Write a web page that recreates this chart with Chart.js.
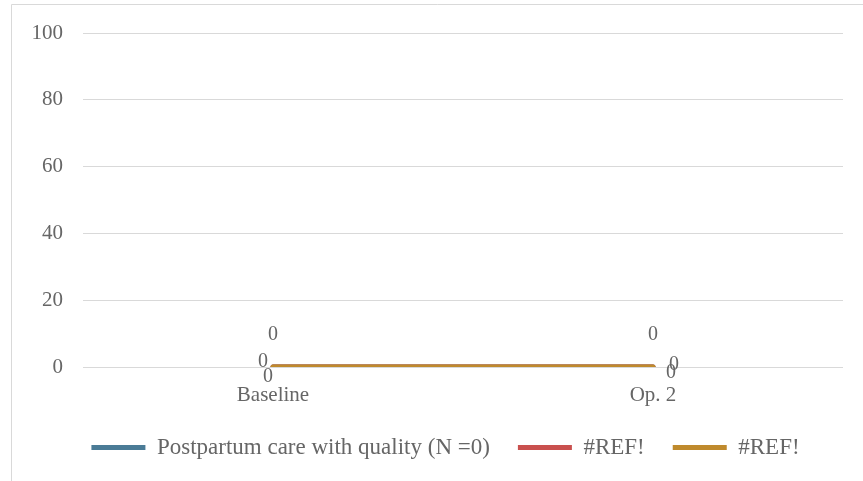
<!DOCTYPE html>
<html lang="en">
<head>
<meta charset="UTF-8">
<title>Postpartum care with quality</title>
<script src="https://cdn.jsdelivr.net/npm/chart.js"></script>
<style>
    body { margin: 0; background: #ffffff; }
    .wrap { width: 863px; height: 481px; position: relative; }
</style>
</head>
<body>
<div class="wrap"><canvas id="grafico" width="863" height="481"></canvas></div>
<script>
// datos
const categorias = ["Baseline", "Op. 2"];
const nombresSeries = ["Postpartum care with quality (N =0)", "#REF!", "#REF!"];
const serieCalidad = [0, 0];
const serieRef1 = [0, 0];
const serieRef2 = [0, 0];
const ticksY = [0, 20, 40, 60, 80, 100];

const colores = ["#4a7b96", "#c9504e", "#bf8a2d"];
const gris = "#666666";
const fuente = "'Liberation Serif', 'DejaVu Serif', serif";

// donde cae cada etiqueta "0" respecto a su punto
const desplazamientos = [
    [{ dx: 0, dy: -32 }, { dx: 0, dy: -32 }],
    [{ dx: -10, dy: -5 }, { dx: 21, dy: -2 }],
    [{ dx: -5, dy: 10 }, { dx: 18, dy: 6 }]
];

const etiquetas = {
    id: "etiquetas",
    afterDatasetsDraw(chart) {
        const ctx = chart.ctx;
        ctx.save();
        ctx.font = "20px " + fuente;
        ctx.fillStyle = gris;
        ctx.textAlign = "center";
        ctx.textBaseline = "middle";
        chart.data.datasets.forEach((ds, i) => {
            chart.getDatasetMeta(i).data.forEach((p, j) => {
                const d = desplazamientos[i][j];
                ctx.fillText(String(ds.data[j]), p.x + d.dx, p.y + d.dy);
            });
        });
        ctx.restore();
    }
};

const marco = {
    id: "marco",
    afterLayout(chart) {
        // la leyenda del original va un poco a la derecha
        chart.legend.left += 18;
        chart.legend.right += 18;
    },
    beforeDraw(chart) {
        const ctx = chart.ctx;
        ctx.save();
        ctx.strokeStyle = "#d9d9d9";
        ctx.lineWidth = 1;
        ctx.beginPath();
        ctx.moveTo(11.5, chart.height);
        ctx.lineTo(11.5, 4.5);
        ctx.lineTo(chart.width, 4.5);
        ctx.stroke();
        ctx.restore();
    }
};

const series = [serieCalidad, serieRef1, serieRef2];

new Chart(document.getElementById("grafico"), {
    type: "line",
    data: {
        labels: categorias,
        datasets: series.map((s, i) => ({
            label: nombresSeries[i],
            data: s,
            order: series.length - i, // la ultima serie queda encima
            borderColor: colores[i],
            backgroundColor: colores[i],
            borderWidth: 5,
            borderCapStyle: "round",
            pointRadius: 0,
            fill: false
        }))
    },
    options: {
        responsive: false,
        animation: false,
        layout: { padding: { left: 12, right: 20, top: 33, bottom: 12 } },
        plugins: {
            tooltip: { enabled: false },
            legend: {
                position: "bottom",
                labels: {
                    usePointStyle: true,
                    pointStyle: "line",
                    pointStyleWidth: 54,
                    color: gris,
                    padding: 28,
                    font: { family: fuente, size: 23 },
                    sort: (a, b) => a.datasetIndex - b.datasetIndex
                }
            }
        },
        scales: {
            x: {
                offset: true,
                grid: { display: false },
                border: { display: false },
                afterFit(scale) { scale.height = 41; },
                ticks: { color: gris, padding: 8, font: { family: fuente, size: 21 } }
            },
            y: {
                min: 0,
                max: 100,
                afterBuildTicks(scale) { scale.ticks = ticksY.map(v => ({ value: v })); },
                afterFit(scale) { scale.width = 71; },
                grid: { color: "#d9d9d9", drawTicks: false },
                border: { display: false },
                ticks: { color: gris, padding: 20, font: { family: fuente, size: 21 } }
            }
        }
    },
    plugins: [marco, etiquetas]
});
</script>
</body>
</html>
